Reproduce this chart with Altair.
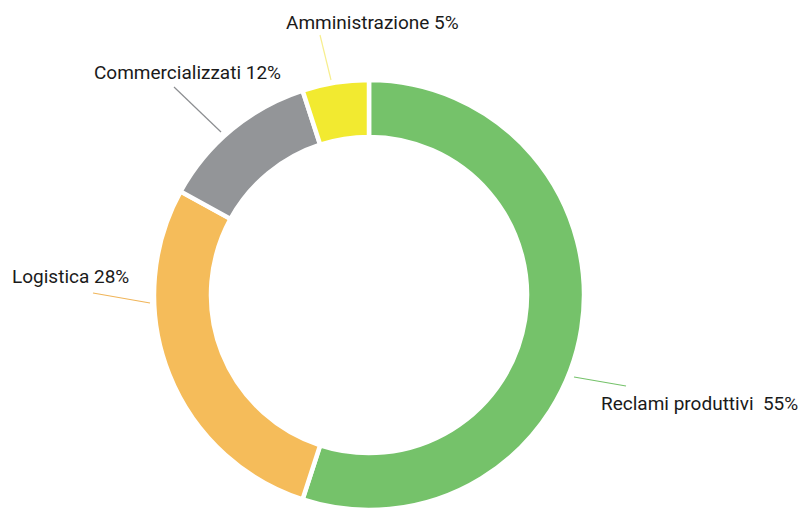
import altair as alt
import pandas as pd

# ---- data ----
categories = ["Reclami produttivi", "Logistica", "Commercializzati", "Amministrazione"]
values = [55, 28, 12, 5]
label_texts = ["Reclami produttivi\u00a0\u00a055%", "Logistica 28%", "Commercializzati 12%", "Amministrazione 5%"]
colors = ["#75C26A", "#F5BC5A", "#939598", "#F2EA30"]
leader_colors = ["#75C26A", "#F0B55A", "#8C8E91", "#F7EE8E"]

df = pd.DataFrame({"cat": categories, "val": values, "idx": list(range(len(values)))})

# ---- annotation layout (plot-area pixels) ----
CX, CY = 361, 287
R_OUT, R_IN = 215, 158
text_anchor = {  # left x, baseline y
    "Reclami produttivi": (593, 402),
    "Logistica": (4, 275),
    "Commercializzati": (86, 71),
    "Amministrazione": (278, 21),
}
leaders = {  # x1, y1, x2, y2
    "Reclami produttivi": (566, 369, 618, 378),
    "Logistica": (142, 295, 85, 285),
    "Commercializzati": (213, 124, 166, 79),
    "Amministrazione": (323, 72, 312, 27),
}

ann = pd.DataFrame({
    "cat": categories,
    "label": label_texts,
    "lc": leader_colors,
    "tx": [text_anchor[c][0] for c in categories],
    "ty": [text_anchor[c][1] for c in categories],
    "x1": [leaders[c][0] for c in categories],
    "y1": [leaders[c][1] for c in categories],
    "x2": [leaders[c][2] for c in categories],
    "y2": [leaders[c][3] for c in categories],
})

ring = alt.Chart(df).mark_arc(
    innerRadius=R_IN, outerRadius=R_OUT, stroke="white", strokeWidth=4.5
).encode(
    theta=alt.Theta("val:Q", stack=True),
    order=alt.Order("idx:Q"),
    color=alt.Color("cat:N", scale=alt.Scale(domain=categories, range=colors), legend=None),
    x=alt.value(CX),
    y=alt.value(CY),
)

lines = alt.Chart(ann).mark_rule(strokeWidth=1.2).encode(
    x=alt.X("x1:Q", scale=None, axis=None),
    y=alt.Y("y1:Q", scale=None, axis=None),
    x2="x2:Q",
    y2="y2:Q",
    color=alt.Color("lc:N", scale=None),
)

texts = alt.Chart(ann).mark_text(
    align="left", baseline="alphabetic", font="Roboto", fontSize=19, color="#1a1a1a"
).encode(
    x=alt.X("tx:Q", scale=None, axis=None),
    y=alt.Y("ty:Q", scale=None, axis=None),
    text="label:N",
)

chart = alt.layer(ring, lines, texts).properties(
    width=790, height=500, padding=0, autosize=alt.AutoSizeParams(type="none")
).configure_view(stroke=None)

chart.save("out.html", embed_options={"renderer": "svg", "actions": False})
